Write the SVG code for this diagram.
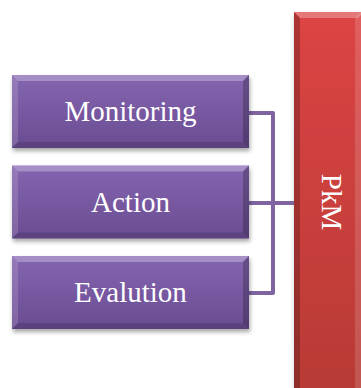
<svg xmlns="http://www.w3.org/2000/svg" width="361" height="388" viewBox="0 0 361 388">
<defs>
<linearGradient id="pg" x1="0" y1="0" x2="0" y2="1">
<stop offset="0" stop-color="#8465b0"/>
<stop offset="1" stop-color="#6a4c92"/>
</linearGradient>
<linearGradient id="rg" x1="0" y1="0" x2="0" y2="1">
<stop offset="0" stop-color="#dc4444"/>
<stop offset="1" stop-color="#b83a35"/>
</linearGradient>
<filter id="sh" x="-10%" y="-10%" width="120%" height="130%">
<feDropShadow dx="1" dy="3" stdDeviation="2" flood-color="#000" flood-opacity="0.35"/>
</filter>
<style>
.lbl{font-family:"Liberation Serif","Times New Roman",serif;font-size:29px;fill:#ffffff;text-anchor:middle}
.hi{fill:#ffffff;fill-opacity:0.28}
.hl{fill:#ffffff;fill-opacity:0.14}
.dk{fill:#000000;fill-opacity:0.22}
.dr{fill:#000000;fill-opacity:0.14}
.conn{fill:none;stroke:#8064a2;stroke-width:4;stroke-linejoin:round}
</style>
</defs>
<g id="pkm">
<rect x="294" y="12" width="70" height="380" fill="url(#rg)" filter="url(#sh)"/>
<polygon class="hi" points="294,12 364,12 358,18 300,18"/>
<polygon class="dk" points="294,12 300,18 300,392 294,392"/>
<polygon class="hl" points="355,18 361,12 361,392 355,392"/>
<text class="lbl" transform="translate(322,202) rotate(90)" x="0" y="0">PkM</text>
</g>
<g id="connectors">
<path class="conn" d="M249,113 H273 V293 H249"/>
<path class="conn" d="M249,203 H294"/>
</g>
<g id="monitoring">
<rect x="12" y="75" width="237" height="73" fill="url(#pg)" filter="url(#sh)"/>
<polygon class="hi" points="12,75 249,75 243,81 18,81"/>
<polygon class="hl" points="12,75 18,81 18,142 12,148"/>
<polygon class="dk" points="249,75 249,148 243,142 243,81"/>
<polygon class="dr" points="12,148 249,148 243,142 18,142"/>
<text class="lbl" x="130.5" y="121">Monitoring</text>
</g>
<g id="action">
<rect x="12" y="165.5" width="237" height="73" fill="url(#pg)" filter="url(#sh)"/>
<polygon class="hi" points="12,165.5 249,165.5 243,171.5 18,171.5"/>
<polygon class="hl" points="12,165.5 18,171.5 18,232.5 12,238.5"/>
<polygon class="dk" points="249,165.5 249,238.5 243,232.5 243,171.5"/>
<polygon class="dr" points="12,238.5 249,238.5 243,232.5 18,232.5"/>
<text class="lbl" x="130.5" y="212">Action</text>
</g>
<g id="evalution">
<rect x="12" y="256" width="237" height="73" fill="url(#pg)" filter="url(#sh)"/>
<polygon class="hi" points="12,256 249,256 243,262 18,262"/>
<polygon class="hl" points="12,256 18,262 18,323 12,329"/>
<polygon class="dk" points="249,256 249,329 243,323 243,262"/>
<polygon class="dr" points="12,329 249,329 243,323 18,323"/>
<text class="lbl" x="130.5" y="302">Evalution</text>
</g>
</svg>
